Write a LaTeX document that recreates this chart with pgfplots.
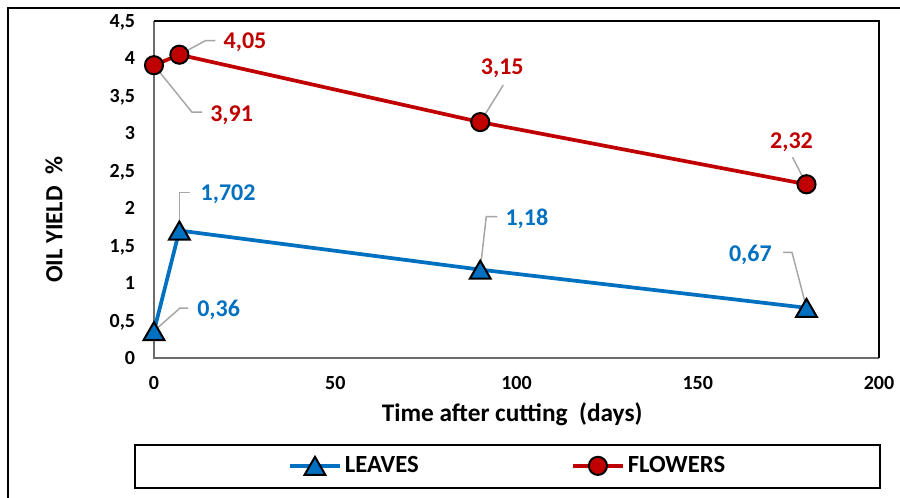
\documentclass[border=0pt]{standalone}
\usepackage{pgfplots}
\pgfplotsset{compat=1.18}
\usepackage{fontspec}
\setmainfont{Carlito}
\definecolor{fred}{HTML}{C00000}
\definecolor{lblue}{HTML}{0070C0}
\definecolor{leadc}{HTML}{A6A6A6}
\newcommand\PX{0.75pt}
\begin{document}
\begin{tikzpicture}[
  flab/.style={text=fred, font=\fontsize{18}{20}\selectfont\bfseries, inner sep=0pt, text depth=0pt},
  blab/.style={text=lblue, font=\fontsize{18}{20}\selectfont\bfseries, inner sep=0pt, text depth=0pt},
  lead/.style={draw=leadc, line width=1.1pt}]
\useasboundingbox (0,0) rectangle (675pt,-372.75pt);
\fill[white] (0,0) rectangle (675pt,-372.75pt);
\draw[black, line width=2.2pt] (8*\PX,-8*\PX) rectangle (920*\PX,-520*\PX);
\begin{axis}[
  at={(115.5pt,-268.5pt)}, anchor=south west, scale only axis,
  width=543.75pt, height=252.75pt,
  xmin=0, xmax=200, ymin=0, ymax=4.5,
  xtick={0,50,100,150,200},
  ytick={0,0.5,1,1.5,2,2.5,3,3.5,4,4.5},
  major tick length=0pt,
  axis line style={draw=none},
  /pgf/number format/assume math mode=true,
  /pgf/number format/use comma,
  tick label style={font=\fontsize{15}{18}\selectfont\bfseries, inner sep=0pt, text depth=0pt},
  yticklabel style={anchor=east, xshift=-14pt},
  xticklabel style={anchor=north, yshift=-13.5pt},
  clip=false,
  xlabel={Time after cutting\ \ (days)},
  ylabel={OIL YIELD\ \ \%},
  xlabel style={at={(axis description cs:0.494,-0.168)}, anchor=center, font=\fontsize{19}{21}\selectfont\bfseries},
  ylabel style={at={(axis description cs:-0.138,0.41)}, anchor=center, font=\fontsize{18.5}{20}\selectfont\bfseries},
  legend style={at={(axis description cs:0.488,-0.32)}, anchor=center, draw=none, fill=none,
    font=\fontsize{18.5}{20}\selectfont\bfseries,
    /tikz/every even column/.append style={column sep=112pt}},
  legend columns=2,
  legend image code/.code={\draw[mark repeat=2,mark phase=2,#1] plot coordinates {(0pt,0pt) (19pt,0pt) (38pt,0pt)};},
]
\draw[gray!85!black, line width=1.5pt] (rel axis cs:0,1) -- (rel axis cs:0,0) -- (rel axis cs:1,0);
\draw[black, line width=1.5pt] (rel axis cs:0,1) -- (rel axis cs:1,1) -- (rel axis cs:1,0);
\addplot[lblue, line width=2.8pt, mark=triangle*, mark size=9pt,
  mark options={fill=lblue, draw=black, line width=1.5pt, yshift=-2.25pt}]
  coordinates {(0,0.36) (7,1.702) (90,1.18) (180,0.67)};
\addlegendentry{LEAVES}
\addplot[fred, line width=2.8pt, mark=*, mark size=6.8pt,
  mark options={fill=fred, draw=black, line width=1.5pt}]
  coordinates {(0,3.91) (7,4.05) (90,3.15) (180,2.32)};
\addlegendentry{FLOWERS}
% flowers labels
\draw[lead] (axis cs:0,3.91) -- ++(38*\PX,-47*\PX) -- ++(10*\PX,0);
\node[flab, anchor=west] at ([shift={(56*\PX,-48*\PX)}]axis cs:0,3.91) {3,91};
\draw[lead] (axis cs:7,4.05) -- ++(26*\PX,14*\PX) -- ++(10*\PX,0);
\node[flab, anchor=west] at ([shift={(44*\PX,14*\PX)}]axis cs:7,4.05) {4,05};
\draw[lead] (axis cs:90,3.15) -- ++(23*\PX,37*\PX);
\node[flab, anchor=center] at ([shift={(22*\PX,55*\PX)}]axis cs:90,3.15) {3,15};
\draw[lead] (axis cs:180,2.32) -- ++(-14*\PX,27*\PX);
\node[flab, anchor=center] at ([shift={(-15*\PX,44*\PX)}]axis cs:180,2.32) {2,32};
% leaves labels
\draw[lead] (axis cs:7,1.702) -- ++(0,38*\PX) -- ++(11*\PX,0);
\node[blab, anchor=west] at ([shift={(21*\PX,37.5*\PX)}]axis cs:7,1.702) {1,702};
\draw[lead] (axis cs:90,1.18) -- ++(6*\PX,53*\PX) -- ++(11*\PX,0);
\node[blab, anchor=west] at ([shift={(25*\PX,52.5*\PX)}]axis cs:90,1.18) {1,18};
\draw[lead] (axis cs:180,0.67) -- ++(-14.5*\PX,55.5*\PX) -- ++(-9*\PX,0);
\node[blab, anchor=east] at ([shift={(-34.5*\PX,55*\PX)}]axis cs:180,0.67) {0,67};
\draw[lead] (axis cs:0,0.36) -- ++(26*\PX,23*\PX) -- ++(8*\PX,0);
\node[blab, anchor=west] at ([shift={(43*\PX,23*\PX)}]axis cs:0,0.36) {0,36};
\end{axis}
\draw[black, line width=1.6pt] (101.25pt,-333.75pt) rectangle (660pt,-366pt);
\end{tikzpicture}
\end{document}
